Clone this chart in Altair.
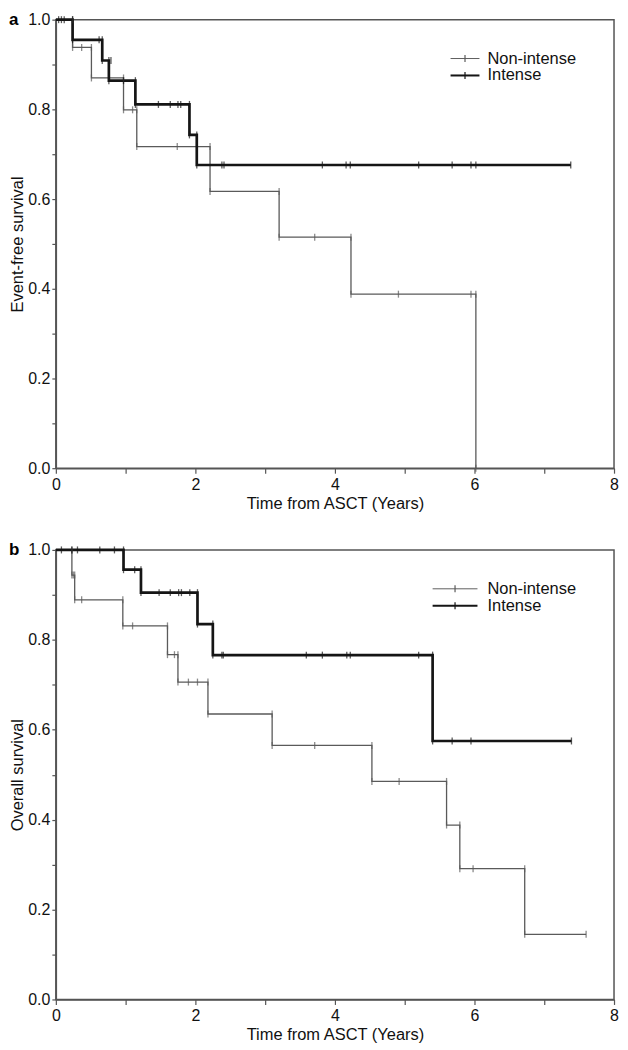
import altair as alt
import pandas as pd

# ---------------- Panel a: event-free survival ----------------
efs_non_t = [0, 0.24, 0.51, 0.97, 1.16, 2.21, 3.20, 4.23, 6.02]
efs_non_s = [1.0, 0.938, 0.870, 0.799, 0.717, 0.617, 0.515, 0.388, 0.0]
efs_non_ct = [0.37, 1.10, 1.74, 3.71, 4.91, 5.95]
efs_non_cs = [0.938, 0.799, 0.717, 0.515, 0.388, 0.388]

efs_int_t = [0, 0.24, 0.665, 0.76, 1.14, 1.915, 2.02, 7.38]
efs_int_s = [1.0, 0.955, 0.909, 0.864, 0.811, 0.743, 0.676, 0.676]
efs_int_ct = [0.04, 0.08, 0.12, 0.62, 0.79, 0.97, 1.47, 1.64, 1.75, 1.79,
              2.38, 2.41, 3.82, 4.16, 4.22, 5.20, 5.68, 5.95, 6.02]
efs_int_cs = [1.0, 1.0, 1.0, 0.955, 0.909, 0.864, 0.811, 0.811, 0.811, 0.811,
              0.676, 0.676, 0.676, 0.676, 0.676, 0.676, 0.676, 0.676, 0.676]

# ---------------- Panel b: overall survival ----------------
os_non_t = [0, 0.23, 0.27, 0.96, 1.60, 1.75, 2.18, 3.10, 4.53, 5.60, 5.79, 6.72, 7.60]
os_non_s = [1.0, 0.944, 0.889, 0.831, 0.767, 0.706, 0.635, 0.565, 0.485, 0.388, 0.291, 0.145, 0.145]
os_non_ct = [0.25, 0.37, 1.10, 1.70, 1.90, 2.03, 3.71, 4.92, 5.98]
os_non_cs = [0.944, 0.889, 0.831, 0.767, 0.706, 0.706, 0.565, 0.485, 0.291]

os_int_t = [0, 0.97, 1.22, 2.03, 2.25, 5.40, 7.39]
os_int_s = [1.0, 0.956, 0.905, 0.835, 0.766, 0.575, 0.575]
os_int_ct = [0.08, 0.23, 0.31, 0.63, 0.84, 1.13, 1.48, 1.64, 1.76, 1.80, 1.92,
             2.38, 2.40, 3.59, 3.82, 4.17, 4.22, 5.20, 5.68, 5.95]
os_int_cs = [1.0, 1.0, 1.0, 1.0, 1.0, 0.956, 0.905, 0.905, 0.905, 0.905, 0.905,
             0.766, 0.766, 0.766, 0.766, 0.766, 0.766, 0.766, 0.575, 0.575]

groups = ["Non-intense", "Intense"]
x_tick_values = [0, 1, 2, 3, 4, 5, 6, 7, 8]
y_tick_values = [0.0, 0.1, 0.2, 0.3, 0.4, 0.5, 0.6, 0.7, 0.8, 0.9, 1.0]

COLORS = ["#5a5a5a", "#151515"]
WIDTHS = [1.3, 2.7]
FONT = "Liberation Sans"
W = 560


def line_df(t, s, g):
    return pd.DataFrame({"t": t, "s": s, "group": g, "ord": list(range(len(t)))})


def tick_df(t, s, ct, cs, g):
    tt, ss = list(ct), list(cs)
    for i in range(1, len(t)):
        tt.append(t[i]); ss.append(s[i - 1])
        if s[i] != s[i - 1]:
            tt.append(t[i]); ss.append(s[i])
    return pd.DataFrame({"t": tt, "s": ss, "group": g})


def panel(non, inte, ytitle, letter, H, leg_x0, leg_x1):
    lines = pd.concat([line_df(non[0], non[1], groups[0]),
                       line_df(inte[0], inte[1], groups[1])])
    ticks = pd.concat([tick_df(non[0], non[1], non[2], non[3], groups[0]),
                       tick_df(inte[0], inte[1], inte[2], inte[3], groups[1])])
    xs = alt.Scale(domain=[0, 8], nice=False)
    ys = alt.Scale(domain=[0, 1], nice=False)
    color = alt.Color("group:N", scale=alt.Scale(domain=groups, range=COLORS), legend=None)
    xaxis = alt.Axis(values=x_tick_values,
                     labelExpr="datum.value % 2 == 0 ? format(datum.value, 'd') : ''",
                     title="Time from ASCT (Years)", grid=False, labelFlush=False,
                     labelOverlap=False, tickSize=5, labelPadding=3, titlePadding=3)
    yaxis = alt.Axis(values=y_tick_values,
                     labelExpr="round(datum.value*10) % 2 == 0 ? format(datum.value, '.1f') : ''",
                     title=ytitle, grid=False, labelFlush=False, labelOverlap=False,
                     tickSize=4, labelPadding=2, titlePadding=2)
    line = alt.Chart(lines).mark_line(interpolate="step-after").encode(
        x=alt.X("t:Q", scale=xs, axis=xaxis),
        y=alt.Y("s:Q", scale=ys, axis=yaxis),
        color=color,
        strokeWidth=alt.StrokeWidth("group:N", scale=alt.Scale(domain=groups, range=WIDTHS), legend=None),
        detail="group:N",
        order="ord:Q",
    )
    tk = alt.Chart(ticks).mark_tick(orient="vertical", size=7, thickness=1.3).encode(
        x=alt.X("t:Q", scale=xs), y=alt.Y("s:Q", scale=ys), color=color)

    layers = [line, tk]
    one = alt.Data(values=[{"k": 1}])
    for i, g in enumerate(groups):
        yy = 39 + 17 * i
        layers.append(alt.Chart(one).mark_rule(color=COLORS[i], strokeWidth=WIDTHS[i] * 0.75).encode(
            x=alt.value(leg_x0), x2=alt.value(leg_x1), y=alt.value(yy)))
        mid = (leg_x0 + leg_x1) / 2
        layers.append(alt.Chart(one).mark_rule(color=COLORS[i], strokeWidth=1.2).encode(
            x=alt.value(mid), y=alt.value(yy - 3.5), y2=alt.value(yy + 3.5)))
        layers.append(alt.Chart(one).mark_text(text=g, align="left", baseline="middle",
                                               fontSize=16.5, font=FONT, color="#111").encode(
            x=alt.value(433), y=alt.value(yy)))
    layers.append(alt.Chart(one).mark_text(text=letter, align="left", baseline="middle",
                                           fontSize=17, fontWeight="bold", font=FONT,
                                           color="#000").encode(
        x=alt.value(-47), y=alt.value(0)))
    return alt.layer(*layers).properties(width=W, height=H)


top = panel((efs_non_t, efs_non_s, efs_non_ct, efs_non_cs),
            (efs_int_t, efs_int_s, efs_int_ct, efs_int_cs),
            "Event-free survival", "a", 450, 396, 425)
bottom = panel((os_non_t, os_non_s, os_non_ct, os_non_cs),
               (os_int_t, os_int_s, os_int_ct, os_int_cs),
               "Overall survival", "b", 451, 378, 423)

chart = alt.vconcat(top, bottom, spacing=27,
                    padding={"left": 0, "top": 0, "right": 0, "bottom": 0}).configure_view(
    stroke="#555", strokeWidth=1.5
).configure_axis(
    domainColor="#555", domainWidth=1.5, tickColor="#555", tickWidth=1.2,
    labelFont=FONT, titleFont=FONT, labelFontSize=16, titleFontSize=16.5,
    titleFontWeight="normal", labelColor="#111", titleColor="#111"
)

chart.save("out.html", embed_options={"renderer": "svg", "actions": False})
